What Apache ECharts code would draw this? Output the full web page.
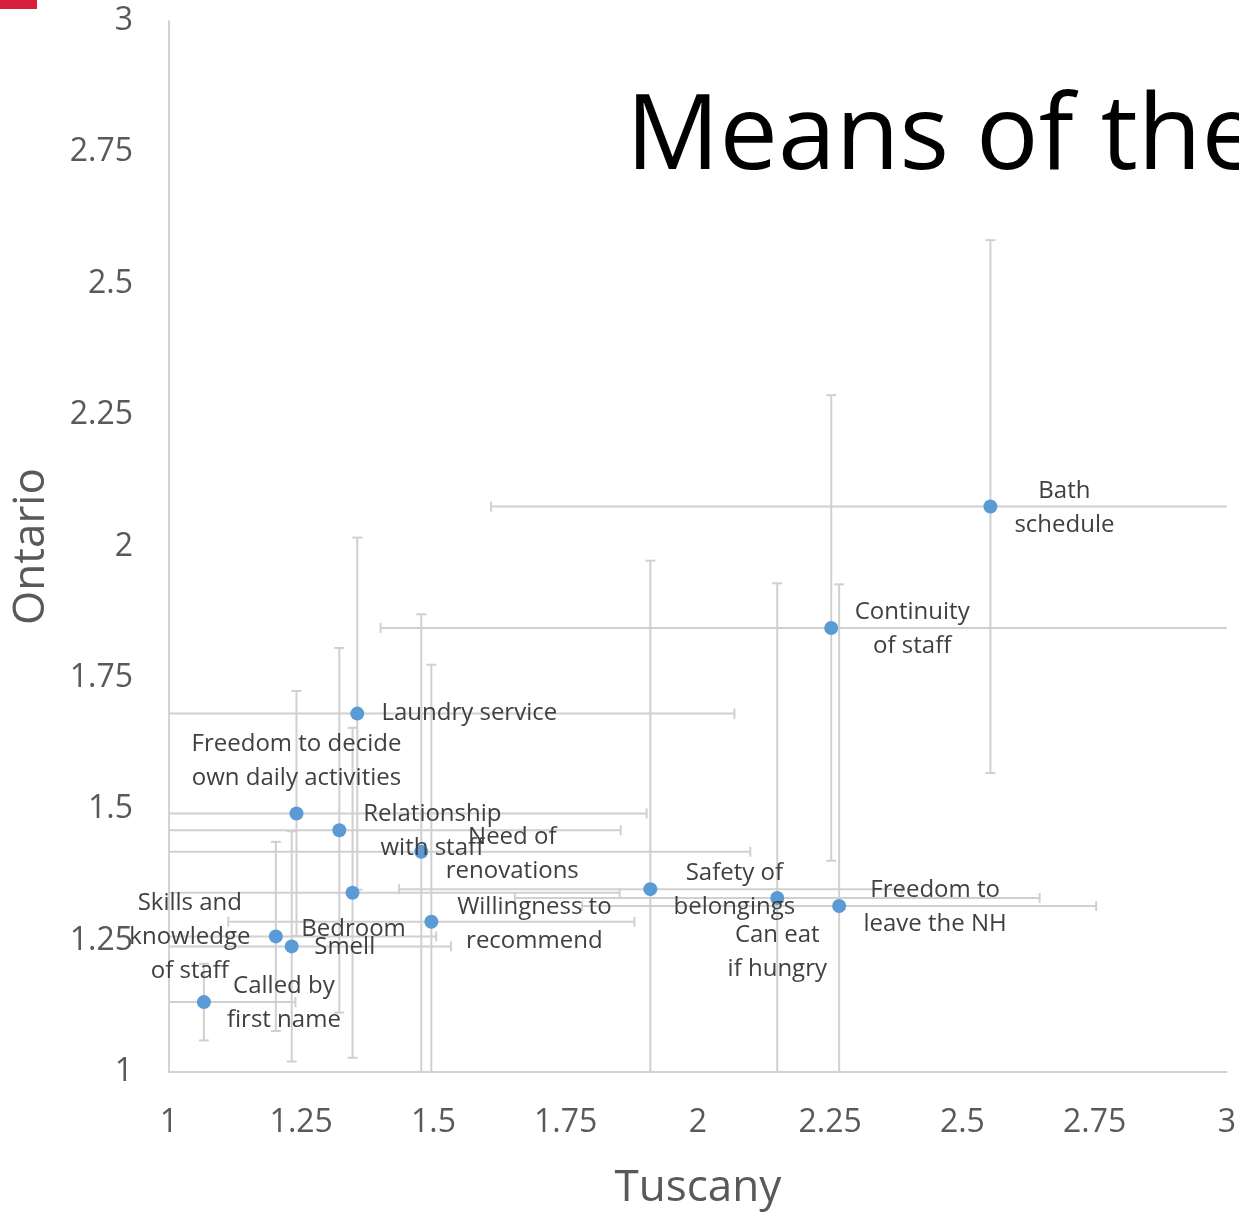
<!DOCTYPE html>
<html>
<head>
<meta charset="utf-8">
<script src="https://cdn.jsdelivr.net/npm/echarts@6/dist/echarts.min.js"></script>
<style>
  html, body { margin: 0; padding: 0; background: #ffffff; }
  #chart { width: 1239px; height: 1215px; }
</style>
</head>
<body>
<div id="chart"></div>
<script>
// Items rated in both regions
const itemNames = [
  'Bath\nschedule',
  'Continuity\nof staff',
  'Laundry service',
  'Freedom to decide\nown daily activities',
  'Relationship\nwith staff',
  'Need of\nrenovations',
  'Safety of\nbelongings',
  'Can eat\nif hungry',
  'Freedom to\nleave the NH',
  'Willingness to\nrecommend',
  'Bedroom',
  'Smell',
  'Skills and\nknowledge\nof staff',
  'Called by\nfirst name'
];

// Mean score in Tuscany (x) and Ontario (y)
const tuscanyMeans = [2.553, 2.252, 1.356, 1.241, 1.322, 1.477, 1.910, 2.150, 2.267, 1.496, 1.347, 1.232, 1.202, 1.066];
const ontarioMeans = [2.076, 1.845, 1.682, 1.492, 1.460, 1.419, 1.348, 1.331, 1.316, 1.286, 1.341, 1.239, 1.258, 1.133];

// Half-width of the error bars
const tuscanyErr = [0.944, 0.852, 0.713, 0.662, 0.532, 0.622, 0.475, 0.496, 0.486, 0.384, 0.505, 0.301, 0.303, 0.173];
const ontarioErr = [0.507, 0.443, 0.335, 0.233, 0.347, 0.452, 0.625, 0.599, 0.612, 0.489, 0.314, 0.219, 0.180, 0.073];

// Axis scale
const axisMin = 1;
const axisMax = 3;
const axisStep = 0.25;

// Label centre offsets from each marker, in pixels
const labelOffsets = [
  [74, 2], [81, 1], [112, 0], [0, -52], [93, 1], [91, 2], [84, 1],
  [0, 54], [96, 1], [103, 2], [1, 36], [53, 1], [-86, 1], [80, 1]
];

const FONT = '"Open Sans", "Noto Sans", sans-serif';
const SYMBOL = 14;

const points = tuscanyMeans.map((x, i) => ({
  value: [x, ontarioMeans[i]],
  name: itemNames[i],
  label: {
    position: [SYMBOL / 2 + labelOffsets[i][0], SYMBOL / 2 + labelOffsets[i][1]]
  }
}));

const bars = tuscanyMeans.map((x, i) => [x, ontarioMeans[i], tuscanyErr[i], ontarioErr[i]]);

function renderErrorBars(params, api) {
  const x = api.value(0), y = api.value(1);
  const ex = api.value(2), ey = api.value(3);
  const clamp = v => Math.max(axisMin, Math.min(axisMax, v));
  const style = { stroke: '#d0d0d0', lineWidth: 2, fill: null };
  const cap = 5;
  const children = [];

  const xl = x - ex, xr = x + ex;
  const pL = api.coord([clamp(xl), y]);
  const pR = api.coord([clamp(xr), y]);
  children.push({ type: 'line', shape: { x1: pL[0], y1: pL[1], x2: pR[0], y2: pR[1] }, style });
  if (xl >= axisMin) children.push({ type: 'line', shape: { x1: pL[0], y1: pL[1] - cap, x2: pL[0], y2: pL[1] + cap }, style });
  if (xr <= axisMax) children.push({ type: 'line', shape: { x1: pR[0], y1: pR[1] - cap, x2: pR[0], y2: pR[1] + cap }, style });

  const yb = y - ey, yt = y + ey;
  const pB = api.coord([x, clamp(yb)]);
  const pT = api.coord([x, clamp(yt)]);
  children.push({ type: 'line', shape: { x1: pB[0], y1: pB[1], x2: pT[0], y2: pT[1] }, style });
  if (yb >= axisMin) children.push({ type: 'line', shape: { x1: pB[0] - cap, y1: pB[1], x2: pB[0] + cap, y2: pB[1] }, style });
  if (yt <= axisMax) children.push({ type: 'line', shape: { x1: pT[0] - cap, y1: pT[1], x2: pT[0] + cap, y2: pT[1] }, style });

  return { type: 'group', children };
}

const axisCommon = {
  type: 'value',
  min: axisMin,
  max: axisMax,
  interval: axisStep,
  splitLine: { show: false },
  axisTick: { show: false },
  axisLine: { show: true, lineStyle: { color: '#c4c4c4', width: 1.5 } },
  axisLabel: { color: '#595959', fontSize: 32, fontFamily: FONT },
  nameLocation: 'middle',
  nameTextStyle: { color: '#595959', fontSize: 44, fontFamily: FONT }
};

const chart = echarts.init(document.getElementById('chart'), null, { renderer: 'canvas' });
chart.setOption({
  backgroundColor: '#ffffff',
  animation: false,
  grid: { left: 169, right: 9, top: 21, bottom: 138, containLabel: false },
  xAxis: Object.assign({}, axisCommon, {
    name: 'Tuscany',
    nameGap: 94,
    axisLabel: Object.assign({}, axisCommon.axisLabel, { margin: 35 })
  }),
  yAxis: Object.assign({}, axisCommon, {
    name: 'Ontario',
    nameGap: 116,
    axisLabel: Object.assign({}, axisCommon.axisLabel, { margin: 36 })
  }),
  graphic: [
    { type: 'rect', left: 0, top: 0, shape: { width: 37, height: 9 }, style: { fill: '#d81e3c' } },
    {
      type: 'text', left: 626, top: 87, z: 10,
      style: { text: 'Means of the', font: '400 104px ' + FONT, fill: '#000000' }
    }
  ],
  series: [
    {
      type: 'custom',
      renderItem: renderErrorBars,
      data: bars,
      z: 1,
      silent: true
    },
    {
      type: 'scatter',
      data: points,
      symbolSize: SYMBOL,
      z: 3,
      itemStyle: { color: '#5b9bd5', opacity: 1 },
      label: {
        show: true,
        formatter: p => p.name,
        align: 'center',
        verticalAlign: 'middle',
        color: '#404040',
        fontSize: 24,
        lineHeight: 34,
        fontFamily: FONT
      }
    }
  ]
});
</script>
</body>
</html>
